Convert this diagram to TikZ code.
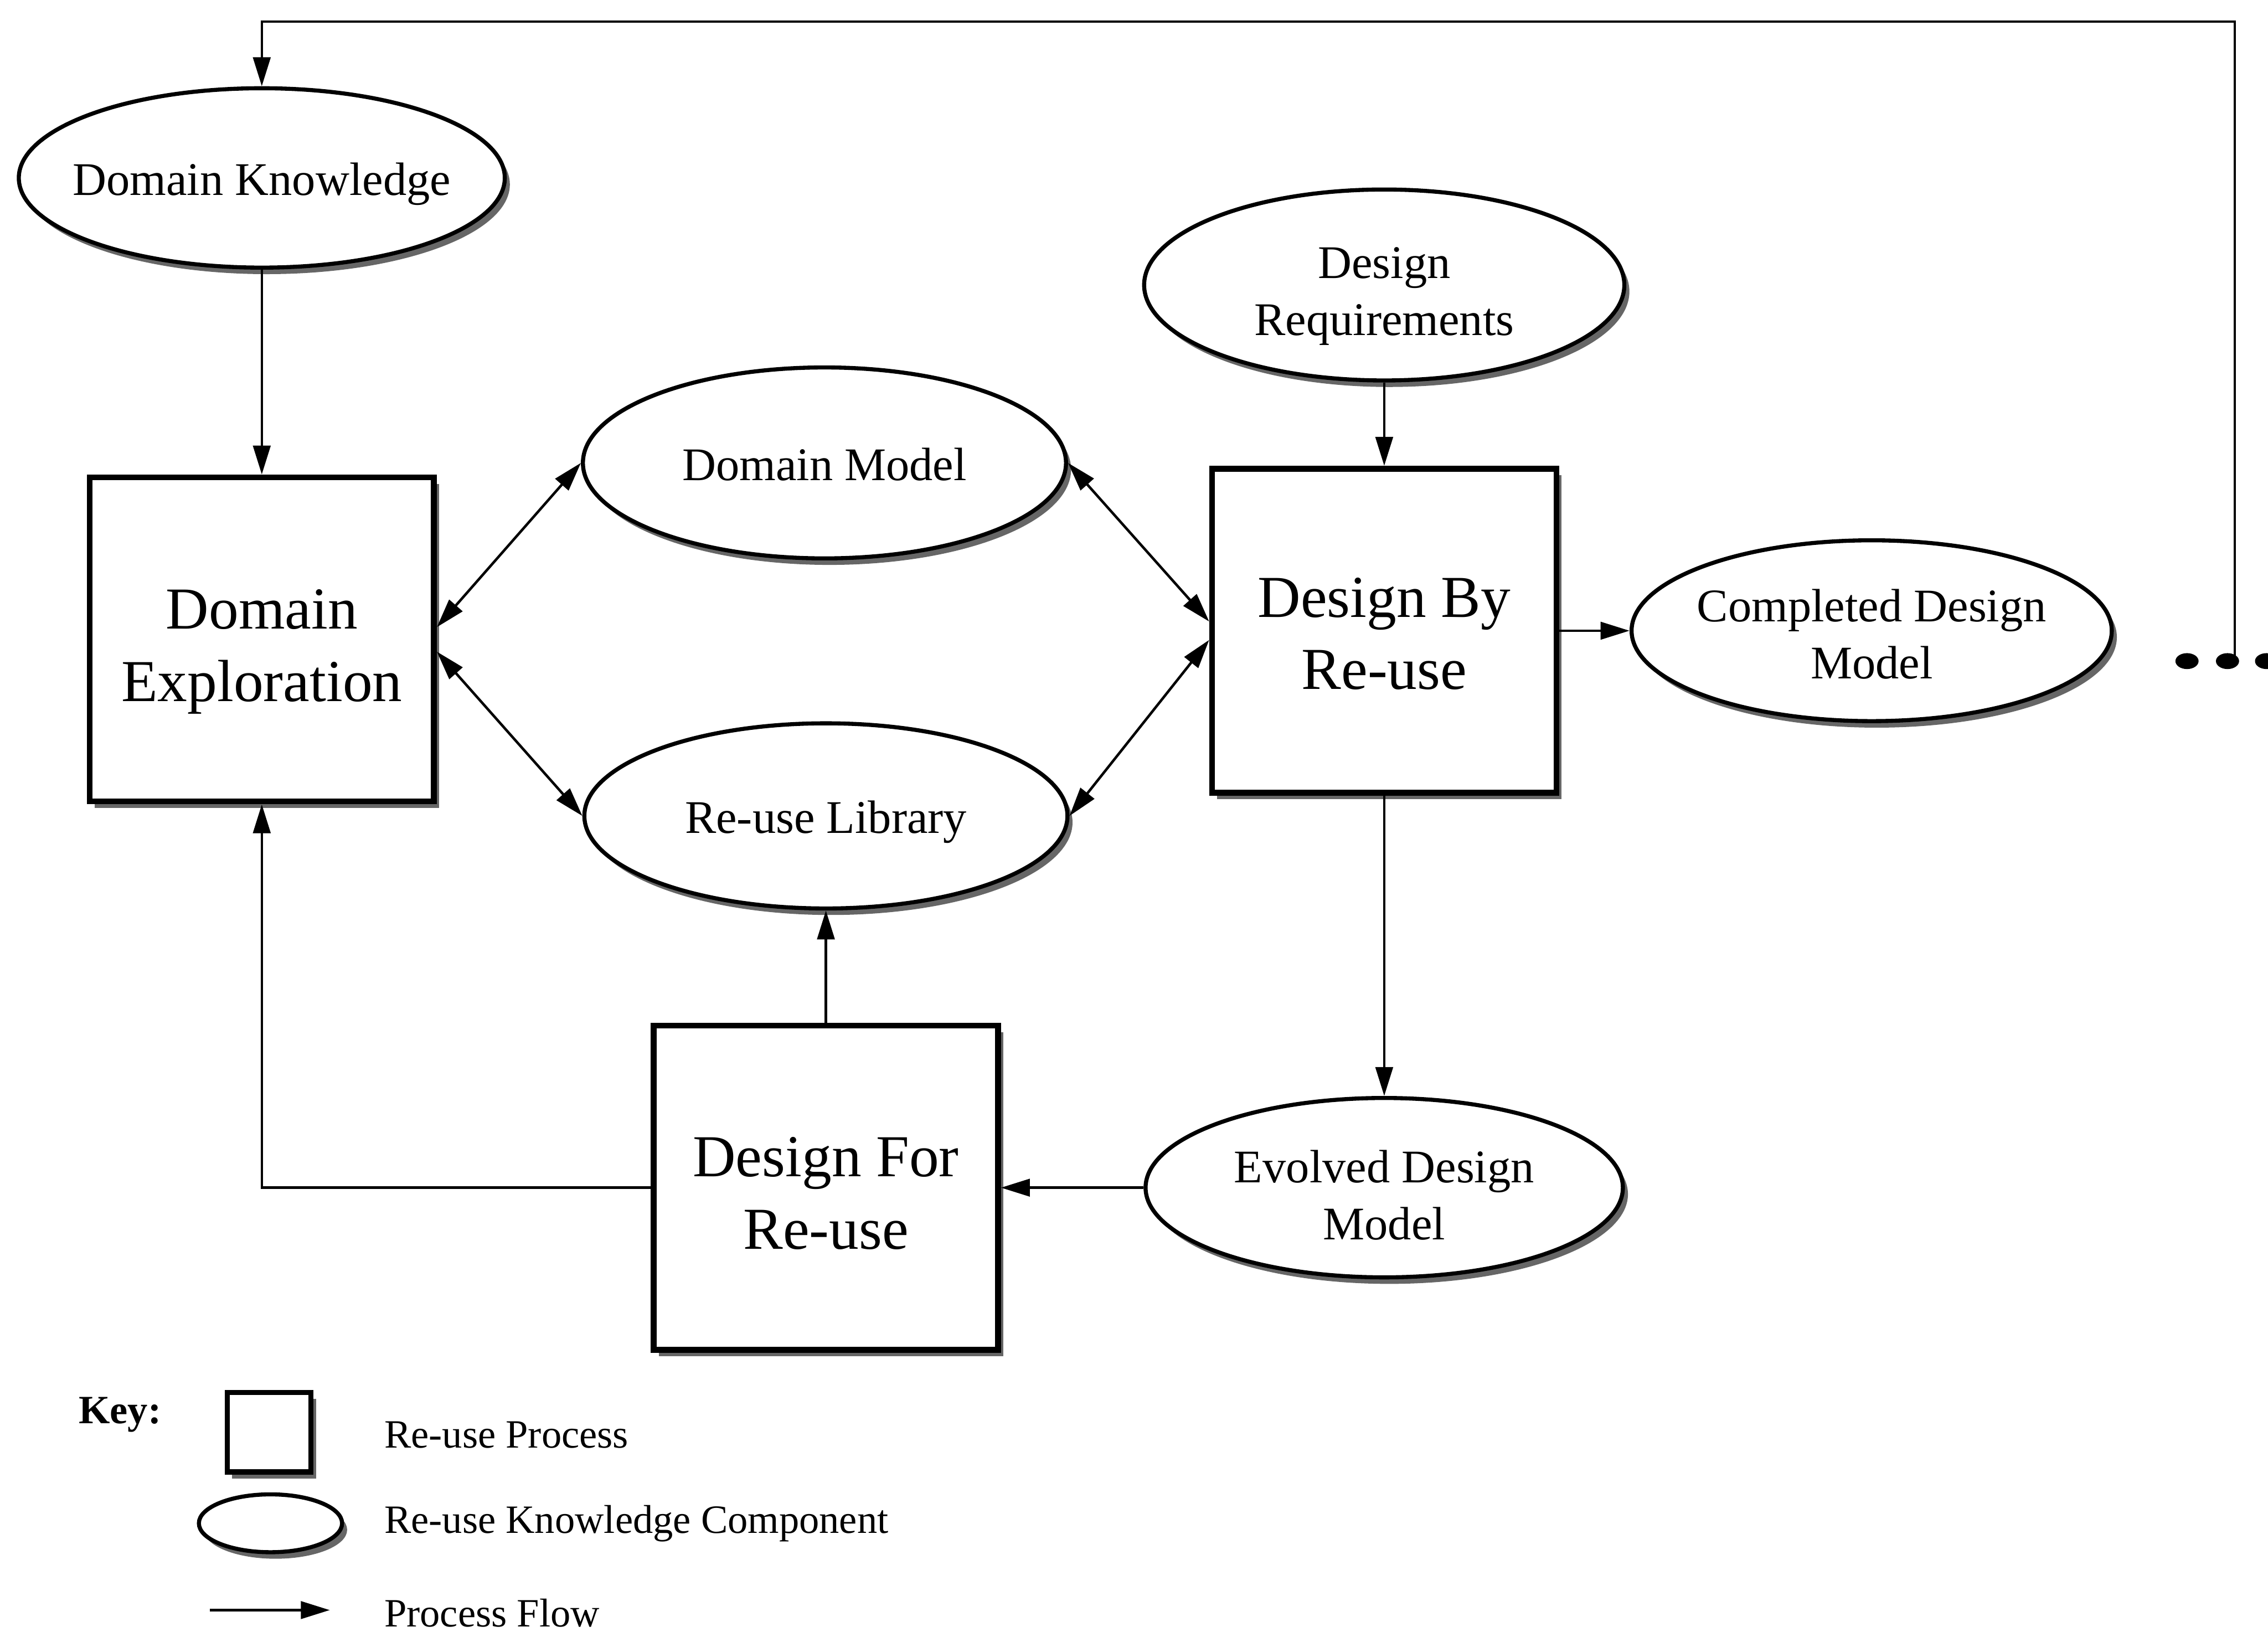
\documentclass[tikz,border=0pt]{standalone}
\usepackage{fontspec}
\setmainfont{Liberation Serif}
\usetikzlibrary{shapes.geometric,arrows.meta,shadows}

% zero-size centred block (optionally lowered), so the shape size comes only from its minimum size
\newcommand{\zw}[2][3.4pt]{\makebox[0pt]{\raisebox{-#1}[0pt][0pt]{\begin{tabular}{@{}c@{}}#2\end{tabular}}}}

\begin{document}
\begin{tikzpicture}[x=0.1mm,y=-0.1mm,
  shade/.style={drop shadow={shadow xshift=0.35mm,shadow yshift=-0.45mm,fill=black!60,opacity=1}},
  component/.style={ellipse,draw,line width=0.8pt,fill=white,inner sep=0pt,
    font=\fontsize{9.2}{11.2}\selectfont,shade},
  process/.style={rectangle,draw,line width=1.15pt,fill=white,inner sep=0pt,
    minimum width=23.8mm,minimum height=22.4mm,
    font=\fontsize{11.7}{14.2}\selectfont,shade},
  flow/.style={-{Triangle[length=2.0mm,width=1.2mm]},line width=0.5pt},
  biflow/.style={{Triangle[length=2.0mm,width=1.2mm]}-{Triangle[length=2.0mm,width=1.2mm]},line width=0.5pt},
  keytext/.style={anchor=west,font=\fontsize{7.9}{9.5}\selectfont,inner sep=0pt},
  ellipsisdot/.style={ellipse,fill=black,inner sep=0pt,minimum width=1.6mm,minimum height=1.1mm}
]
\clip (0,0) rectangle (1568,1128);

% knowledge components
\node[component,minimum width=33.6mm,minimum height=12.4mm] (DK)  at (181,123) {\zw{Domain Knowledge}};
\node[component,minimum width=33.4mm,minimum height=13.2mm] (DM)  at (570,320) {\zw{Domain Model}};
\node[component,minimum width=33.4mm,minimum height=12.8mm] (RL)  at (571,564) {\zw{Re-use Library}};
\node[component,minimum width=33.2mm,minimum height=13.2mm] (DR)  at (957,197) {\zw[4.3pt]{Design\\Requirements}};
\node[component,minimum width=33.2mm,minimum height=12.5mm] (CDM) at (1294,436) {\zw[3.8pt]{Completed Design\\Model}};
\node[component,minimum width=33.0mm,minimum height=12.4mm] (EDM) at (957,821) {\zw[4.6pt]{Evolved Design\\Model}};

% re-use processes
\node[process] (DE)  at (181,442) {\zw[5.2pt]{Domain\\Exploration}};
\node[process] (DBR) at (957,436) {\zw[4.6pt]{Design By\\Re-use}};
\node[process] (DFR) at (571,821) {\zw[5.1pt]{Design For\\Re-use}};

% continuation marks and the loop back to domain knowledge
\node[ellipsisdot] (e1) at (1512,457) {};
\node[ellipsisdot] (e2) at (1540,457) {};
\node[ellipsisdot] (e3) at (1567,457) {};
\coordinate (loop) at (1545,455);
\coordinate (top)  at (1545,15);

% process flow
\draw[flow] (loop) -- (top) -| (DK.north);
\draw[flow] (DK.south) -- (DE.north);
\draw[biflow] (DE.4) -- (DM.west);
\draw[biflow] (DE.-4) -- (RL.west);
\draw[biflow] (DM.east) -- (DBR.177);
\draw[biflow] (RL.east) -- (DBR.183);
\draw[flow] (DR.south) -- (DBR.north);
\draw[flow] (DBR.east) -- (CDM.west);
\draw[flow] (DBR.south) -- (EDM.north);
\draw[flow] (EDM.west) -- (DFR.east);
\draw[flow] (DFR.north) -- (RL.south);
\draw[flow] (DFR.west) -| (DE.south);

% key
\node[font=\bfseries\fontsize{7.9}{9.5}\selectfont,inner sep=0pt] (key) at (83,978) {Key:};
\node[rectangle,draw,line width=1pt,fill=white,minimum width=5.8mm,minimum height=5.5mm,inner sep=0pt,shade] (kbox) at (186,990) {};
\node[ellipse,draw,line width=0.8pt,fill=white,minimum width=9.9mm,minimum height=4.0mm,inner sep=0pt,shade] (kell) at (187,1053) {};
\coordinate (ka) at (145,1113);
\coordinate (kb) at (228,1113);
\draw[flow] (ka) -- (kb);
\node[keytext] (kt1) at (265,992)  {Re-use Process};
\node[keytext] (kt2) at (265,1053) {Re-use Knowledge Component};
\node[keytext] (kt3) at (265,1115) {Process Flow};
\end{tikzpicture}
\end{document}
